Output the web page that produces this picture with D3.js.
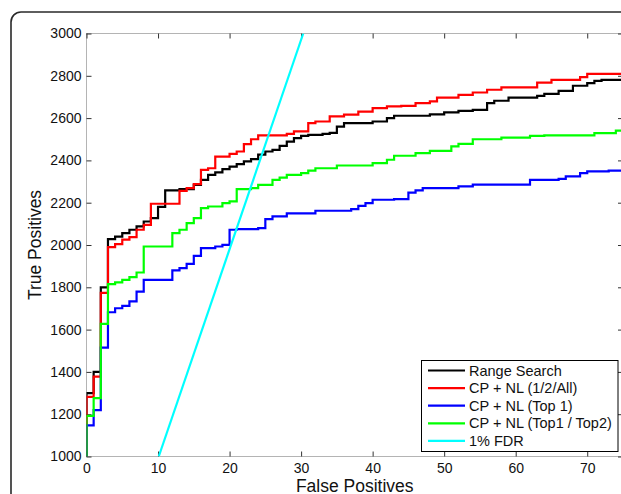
<!DOCTYPE html>
<html>
<head>
<meta charset="utf-8">
<script src="https://cdn.jsdelivr.net/npm/d3@7"></script>
<style>
  html, body { margin: 0; padding: 0; background: #fff; }
  svg { display: block; font-family: "Liberation Sans", Arial, Helvetica, sans-serif; }
</style>
</head>
<body>
<svg id="chart"></svg>
<script>
const width = 621;
const height = 494;
const margin = { top: 33.5, left: 86.5 };
const innerWidth = 536.5;
const innerHeight = 423;

// step points: false positives where the count rises, true positives after the rise
const blackFP = [0, 1, 2, 3, 4, 5, 6, 7, 8, 9, 10, 11, 13, 15, 16, 17, 18, 19, 20, 21, 22, 23, 24, 25, 26, 27, 28, 29, 30, 31, 33, 34, 35, 36, 40, 42, 43, 48, 50, 52, 54, 56, 57, 59, 63, 64, 66, 68, 70, 71, 72];
const blackTP = [1300, 1400, 1800, 2028, 2040, 2056, 2072, 2088, 2111, 2127, 2180, 2258, 2264, 2284, 2308, 2332, 2343, 2359, 2371, 2382, 2395, 2406, 2427, 2442, 2450, 2469, 2489, 2505, 2516, 2521, 2525, 2530, 2560, 2576, 2584, 2600, 2611, 2618, 2627, 2634, 2639, 2671, 2682, 2697, 2705, 2715, 2729, 2753, 2765, 2776, 2781];

const redFP = [0, 1, 2, 3, 4, 5, 6, 7, 8, 9, 13, 14, 15, 16, 17, 18, 20, 21, 22, 23, 24, 28, 29, 31, 32, 34, 36, 38, 40, 42, 44, 46, 48, 49, 52, 54, 56, 58, 63, 65, 69, 70];
const redTP = [1282, 1378, 1774, 1990, 2004, 2025, 2037, 2072, 2095, 2195, 2256, 2269, 2288, 2355, 2363, 2418, 2431, 2442, 2477, 2500, 2518, 2525, 2537, 2576, 2584, 2608, 2616, 2631, 2647, 2655, 2658, 2671, 2679, 2697, 2710, 2721, 2734, 2745, 2768, 2781, 2794, 2809];

const blueFP = [0, 1, 2, 3, 4, 5, 6, 7, 8, 12, 13, 14, 15, 16, 18, 19, 20, 21, 24, 25, 26, 28, 32, 37, 38, 39, 40, 43, 45, 46, 47, 52, 54, 62, 66, 67, 69, 70, 73];
const blueTP = [1147, 1219, 1515, 1682, 1701, 1712, 1733, 1780, 1835, 1880, 1891, 1911, 1949, 1985, 1993, 2001, 2072, 2075, 2080, 2122, 2135, 2150, 2162, 2170, 2185, 2198, 2214, 2217, 2248, 2258, 2269, 2277, 2285, 2308, 2313, 2324, 2340, 2348, 2352];

const greenFP = [0, 1, 2, 3, 4, 5, 6, 7, 8, 12, 13, 14, 15, 16, 17, 19, 20, 21, 23, 24, 26, 27, 28, 30, 31, 32, 35, 40, 42, 43, 46, 48, 51, 52, 54, 58, 62, 64, 71, 74];
const greenTP = [1192, 1276, 1627, 1815, 1823, 1835, 1848, 1870, 1993, 2056, 2072, 2103, 2127, 2174, 2182, 2198, 2206, 2264, 2269, 2284, 2308, 2319, 2332, 2340, 2352, 2363, 2376, 2387, 2403, 2422, 2434, 2445, 2466, 2478, 2500, 2508, 2516, 2518, 2529, 2541];

const fdrFP = [10.1, 30.3];
const fdrTP = [1000, 3000];

const xTicks = [0, 10, 20, 30, 40, 50, 60, 70];
const yTicks = [1000, 1200, 1400, 1600, 1800, 2000, 2200, 2400, 2600, 2800, 3000];

const seriesNames = ["Range Search", "CP + NL (1/2/All)", "CP + NL (Top 1)", "CP + NL (Top1 / Top2)", "1% FDR"];
const seriesColors = ["#000000", "#ff0000", "#0000ff", "#00ff00", "#00ffff"];

const svg = d3.select("#chart").attr("width", width).attr("height", height);

// figure frame with rounded corner, running off the page
svg.append("rect")
  .attr("x", 11).attr("y", 12)
  .attr("width", 700).attr("height", 600)
  .attr("rx", 10)
  .attr("fill", "none")
  .attr("stroke", "#2a2a2a")
  .attr("stroke-width", 1.6);

const root = svg.append("g").attr("transform", `translate(${margin.left},${margin.top})`);

const x = d3.scaleLinear().domain([0, 75]).range([0, innerWidth]);
const y = d3.scaleLinear().domain([1000, 3000]).range([innerHeight, 0]);

svg.append("defs").append("clipPath").attr("id", "plot-clip")
  .append("rect").attr("width", innerWidth).attr("height", innerHeight);

// box
root.append("rect")
  .attr("width", innerWidth).attr("height", innerHeight)
  .attr("fill", "none").attr("stroke", "#b4b4b4").attr("stroke-width", 1);

const tickStyle = (g) => {
  g.attr("font-size", null).attr("font-family", null);
  g.select(".domain").remove();
  g.selectAll("line").attr("stroke", "#333");
  g.selectAll("text").attr("fill", "#111").style("font-size", "14px");
};

root.append("g")
  .attr("transform", `translate(0,${innerHeight})`)
  .call(d3.axisBottom(x).tickValues(xTicks).tickFormat(d3.format("d")).tickSizeInner(-5).tickSizeOuter(0).tickPadding(7))
  .call(tickStyle);

root.append("g")
  .call(d3.axisTop(x).tickValues(xTicks).tickSizeInner(-5).tickSizeOuter(0).tickFormat(""))
  .call(tickStyle);

root.append("g")
  .call(d3.axisLeft(y).tickValues(yTicks).tickFormat(d3.format("d")).tickSizeInner(-5).tickSizeOuter(0).tickPadding(5))
  .call(tickStyle);

root.append("g")
  .attr("transform", `translate(${innerWidth},0)`)
  .call(d3.axisRight(y).tickValues(yTicks).tickSizeInner(-5).tickSizeOuter(0).tickFormat(""))
  .call(tickStyle);

root.append("text")
  .attr("x", innerWidth / 2)
  .attr("y", innerHeight + 35)
  .attr("text-anchor", "middle")
  .style("font-size", "17.5px")
  .attr("fill", "#111")
  .text("False Positives");

root.append("text")
  .attr("transform", `translate(-45.5,${innerHeight / 2}) rotate(-90)`)
  .attr("text-anchor", "middle")
  .style("font-size", "17.5px")
  .attr("fill", "#111")
  .text("True Positives");

// curves
function stepPoints(fps, tps) {
  const pts = [[fps[0], 900]];
  fps.forEach((f, i) => pts.push([f, tps[i]]));
  pts.push([75, tps[tps.length - 1]]);
  return pts;
}

const stepLine = d3.line().x((d) => x(d[0])).y((d) => y(d[1])).curve(d3.curveStepAfter);
const straightLine = d3.line().x((d) => x(d[0])).y((d) => y(d[1]));

const curves = [
  stepPoints(blackFP, blackTP),
  stepPoints(redFP, redTP),
  stepPoints(blueFP, blueTP),
  stepPoints(greenFP, greenTP)
];

const lineLayer = root.append("g").attr("clip-path", "url(#plot-clip)");

lineLayer.selectAll("path.step")
  .data(curves)
  .enter()
  .append("path")
  .attr("class", "step")
  .attr("d", stepLine)
  .attr("fill", "none")
  .attr("stroke", (d, i) => seriesColors[i])
  .attr("stroke-width", 2.2)
  .attr("stroke-linejoin", "miter");

lineLayer.append("path")
  .attr("d", straightLine(fdrFP.map((f, i) => [f, fdrTP[i]])))
  .attr("fill", "none")
  .attr("stroke", seriesColors[4])
  .attr("stroke-width", 2.2);

// legend
const legend = svg.append("g").attr("transform", "translate(421,360)");
legend.append("rect")
  .attr("x", 0.5).attr("y", 0.5)
  .attr("width", 196.5).attr("height", 91)
  .attr("fill", "#fff").attr("stroke", "#000").attr("stroke-width", 1);

const rows = legend.selectAll("g.row")
  .data(seriesNames)
  .enter()
  .append("g")
  .attr("class", "row")
  .attr("transform", (d, i) => `translate(0,${10.5 + i * 17.6})`);

rows.append("line")
  .attr("x1", 7).attr("x2", 44)
  .attr("stroke", (d, i) => seriesColors[i])
  .attr("stroke-width", 2.2);

rows.append("text")
  .attr("x", 48)
  .attr("dy", "0.35em")
  .style("font-size", "14.5px")
  .attr("fill", "#111")
  .text((d) => d);
</script>
</body>
</html>
